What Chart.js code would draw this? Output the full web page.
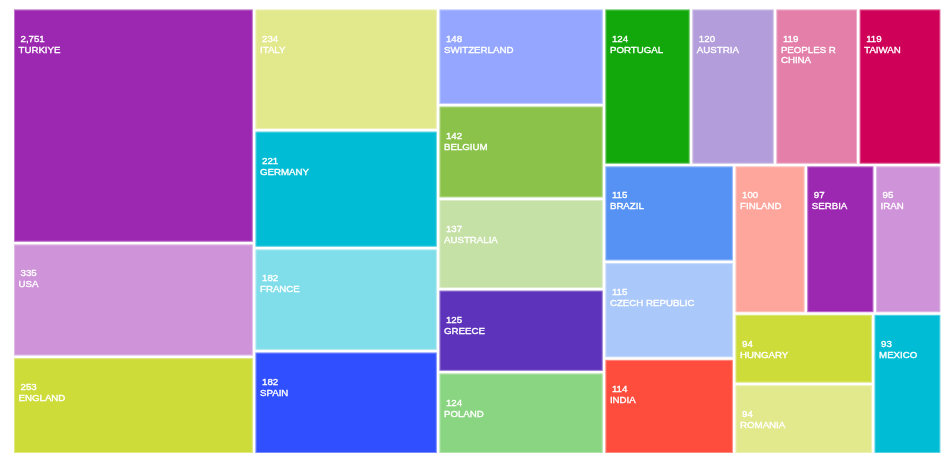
<!DOCTYPE html>
<html>
<head>
<meta charset="utf-8">
<script src="https://cdn.jsdelivr.net/npm/chart.js@4.4.1/dist/chart.umd.min.js"></script>
<style>
    html, body { margin: 0; padding: 0; background: #fff; }
    #wrap { width: 945px; height: 463px; }
</style>
</head>
<body>
<div id="wrap"><canvas id="treemap_chart"></canvas></div>
<script>
const countries = [
    'TURKIYE', 'USA', 'ENGLAND', 'ITALY', 'GERMANY', 'FRANCE', 'SPAIN',
    'SWITZERLAND', 'BELGIUM', 'AUSTRALIA', 'GREECE', 'POLAND', 'PORTUGAL',
    'AUSTRIA', 'PEOPLES R CHINA', 'TAIWAN', 'BRAZIL', 'CZECH REPUBLIC', 'INDIA',
    'FINLAND', 'SERBIA', 'IRAN', 'HUNGARY', 'ROMANIA', 'MEXICO'
];
const records = [
    2751, 335, 253, 234, 221, 182, 182,
    148, 142, 137, 125, 124, 124,
    120, 119, 119, 115, 115, 114,
    100, 97, 95, 94, 94, 93
];
const palette = [
    '#9c27b0', '#ce93d8', '#cddc39', '#e2e98c', '#00bcd4', '#80deea', '#304ffe',
    '#94a6ff', '#8bc34a', '#c5e1a5', '#5e33bb', '#8ad581', '#12a80b', '#b39ddb',
    '#e47faa', '#cf0058', '#5592f4', '#aac8fa', '#fe4d3d', '#fea59c'
];

// cell area follows a log of the record count (floor at half the smallest count)
const sizeFloor = Math.min(...records) / 2;
const cellWeights = records.map(v => Math.log(v / sizeFloor));

const GAP = 2.7;

// squarified layout (golden ratio rows), returns rects in the given box
const squarify = (weights, x0, y0, x1, y1, ratio) => {
    const rects = [];
    const n = weights.length;
    let value = weights.reduce((a, b) => a + b, 0);
    let i0 = 0, i1 = 0;
    while (i0 < n) {
        const dx = x1 - x0, dy = y1 - y0;
        let sum = weights[i1++];
        let minV = sum, maxV = sum;
        const alpha = Math.max(dy / dx, dx / dy) / (value * ratio);
        let beta = sum * sum * alpha;
        let minRatio = Math.max(maxV / beta, beta / minV);
        for (; i1 < n; ++i1) {
            const w = weights[i1];
            sum += w;
            if (w < minV) minV = w;
            if (w > maxV) maxV = w;
            beta = sum * sum * alpha;
            const newRatio = Math.max(maxV / beta, beta / minV);
            if (newRatio > minRatio) { sum -= w; break; }
            minRatio = newRatio;
        }
        if (dx < dy) {
            const h = dy * sum / value;
            let x = x0;
            for (let i = i0; i < i1; i++) {
                const w = dx * weights[i] / sum;
                rects[i] = { x0: x, y0: y0, x1: x + w, y1: y0 + h };
                x += w;
            }
            y0 += h;
        } else {
            const w = dx * sum / value;
            let y = y0;
            for (let i = i0; i < i1; i++) {
                const h = dy * weights[i] / sum;
                rects[i] = { x0: x0, y0: y, x1: x0 + w, y1: y + h };
                y += h;
            }
            x0 += w;
        }
        value -= sum;
        i0 = i1;
    }
    return rects;
};

const wrapText = (ctx, text, maxWidth) => {
    const words = text.split(' ');
    const lines = [];
    let line = '';
    words.forEach(word => {
        const test = line ? line + ' ' + word : word;
        if (line && ctx.measureText(test).width > maxWidth) {
            lines.push(line);
            line = word;
        } else {
            line = test;
        }
    });
    if (line) lines.push(line);
    return lines;
};

const drawLabel = (ctx, text, x, y) => {
    ctx.strokeText(text, x, y);
    ctx.fillText(text, x, y);
};

const treemapPlugin = {
    id: 'treemapCells',
    afterDatasetsDraw(chart) {
        const { ctx, chartArea, scales } = chart;
        const W = chartArea.right - chartArea.left;
        const H = chartArea.bottom - chartArea.top;
        // layout in pixel-shaped units, then map to 0..1 value space of the scales
        const rects = squarify(cellWeights, 0, 0, W, H, (1 + Math.sqrt(5)) / 2);
        ctx.save();
        rects.forEach((r, i) => {
            const left = scales.x.getPixelForValue(r.x0 / W) + GAP / 2;
            const right = scales.x.getPixelForValue(r.x1 / W) - GAP / 2;
            const top = scales.y.getPixelForValue(r.y0 / H) + GAP / 2;
            const bottom = scales.y.getPixelForValue(r.y1 / H) - GAP / 2;
            ctx.fillStyle = palette[i % palette.length];
            ctx.fillRect(left, top, right - left, bottom - top);
            ctx.strokeStyle = 'rgba(255,255,255,0.35)';
            ctx.lineWidth = 1;
            ctx.strokeRect(left + 0.5, top + 0.5, right - left - 1, bottom - top - 1);

            ctx.fillStyle = '#ffffff';
            ctx.strokeStyle = '#ffffff';
            ctx.lineWidth = 0.35;
            ctx.font = '9.7px "Liberation Sans", Arial, sans-serif';
            ctx.textBaseline = 'alphabetic';
            ctx.textAlign = 'left';
            drawLabel(ctx, records[i].toLocaleString('en-US'), left + 6.5, top + 32);
            const lines = wrapText(ctx, countries[i], right - left - 10);
            lines.forEach((ln, k) => {
                drawLabel(ctx, ln, left + 4.5, top + 43 + k * 10);
            });
        });
        ctx.restore();
    }
};

const config = {
    type: 'scatter',
    data: { datasets: [] },
    options: {
        responsive: true,
        maintainAspectRatio: false,
        animation: false,
        layout: {
            padding: { left: 12.65, top: 8.15, right: 3.35, bottom: 8.65 }
        },
        plugins: {
            legend: { display: false },
            tooltip: { enabled: false }
        },
        scales: {
            x: { type: 'linear', min: 0, max: 1, display: false },
            y: { type: 'linear', min: 0, max: 1, reverse: true, display: false }
        }
    },
    plugins: [treemapPlugin]
};

new Chart(document.getElementById('treemap_chart'), config);
</script>
</body>
</html>
